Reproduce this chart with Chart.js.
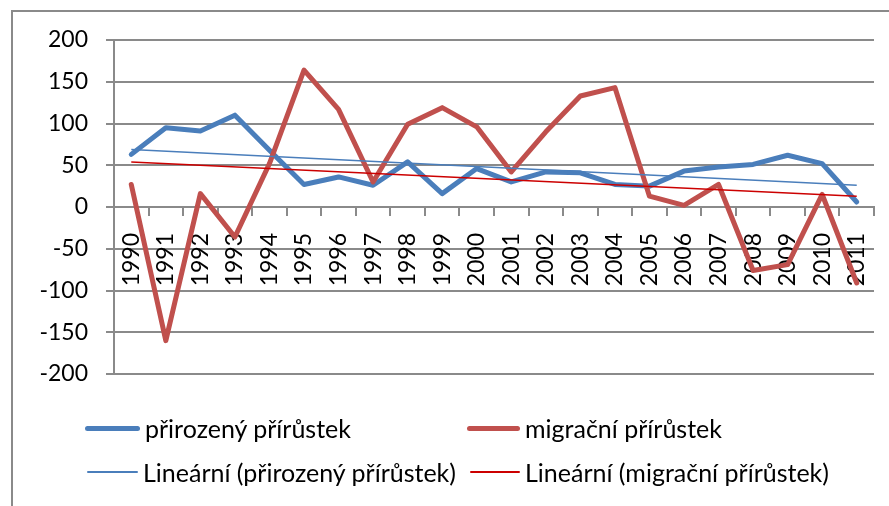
<!DOCTYPE html>
<html>
<head>
<meta charset="utf-8">
<script src="https://cdn.jsdelivr.net/npm/chart.js@4/dist/chart.umd.min.js"></script>
<style>
  html, body { margin: 0; padding: 0; background: #fff; }
  #wrap { position: relative; width: 889px; height: 506px; overflow: hidden; font-family: Lato, "Noto Sans", sans-serif; }
  #frame { position: absolute; left: 11px; top: 10px; width: 900px; height: 520px; border-left: 2px solid #8a8a8a; border-top: 2px solid #8a8a8a; }
  canvas { position: absolute; left: 0; top: 0; }
  .lg { position: absolute; display: flex; align-items: center; font-size: 25px; color: #000; white-space: nowrap; }
  .sw { display: inline-block; margin-right: 5px; border-radius: 3px; }
</style>
</head>
<body>
<div id="wrap">
  <div id="frame"></div>
  <canvas id="c" width="889" height="506"></canvas>
  <div id="legend"></div>
</div>
<script>
const years = ["1990","1991","1992","1993","1994","1995","1996","1997","1998","1999","2000","2001","2002","2003","2004","2005","2006","2007","2008","2009","2010","2011"];
const naturalIncrease = [63, 95, 91, 110, 68, 27, 36, 26, 54, 16, 46, 30, 42, 41, 27, 25, 43, 48, 51, 62, 52, 6];
const migrationIncrease = [27, -160, 16, -36, 52, 164, 117, 30, 99, 119, 96, 42, 90, 133, 143, 13, 2, 27, -76, -69, 15, -91];
// trend line end values (first year, last year)
const trendNatural = [69, 26];
const trendMigration = [54, 13];
const yTicks = { min: -200, max: 200, step: 50 };

const seriesLabels = ["přirozený přírůstek", "migrační přírůstek", "Lineární (přirozený přírůstek)", "Lineární (migrační přírůstek)"];

function endpoints(pair) {
  const arr = years.map(() => null);
  arr[0] = pair[0];
  arr[arr.length - 1] = pair[1];
  return arr;
}

const gridColor = '#8a8a8a';
const font = { family: 'Lato, "Noto Sans", sans-serif', size: 23 };

const chart = new Chart(document.getElementById('c'), {
  type: 'line',
  data: {
    labels: years,
    datasets: [
      { label: seriesLabels[0], data: naturalIncrease, borderColor: '#4a7ebb', borderWidth: 5, pointRadius: 0, borderJoinStyle: 'round', borderCapStyle: 'round', tension: 0, order: 4 },
      { label: seriesLabels[1], data: migrationIncrease, borderColor: '#c0504d', borderWidth: 5, pointRadius: 0, borderJoinStyle: 'round', borderCapStyle: 'round', tension: 0, order: 3 },
      { label: seriesLabels[2], data: endpoints(trendNatural), borderColor: '#4a7ebb', borderWidth: 1.5, pointRadius: 0, spanGaps: true, order: 2 },
      { label: seriesLabels[3], data: endpoints(trendMigration), borderColor: '#cc0000', borderWidth: 1.5, pointRadius: 0, spanGaps: true, order: 1 }
    ]
  },
  options: {
    responsive: false,
    animation: false,
    layout: { padding: { left: 0, top: 40, right: 15, bottom: 132 } },
    plugins: { legend: { display: false }, tooltip: { enabled: false } },
    scales: {
      x: {
        type: 'category',
        position: { y: 0 },
        offset: true,
        afterFit: (s) => { s.paddingLeft = 0; s.paddingRight = 0; },
        grid: { offset: true, drawOnChartArea: false, drawTicks: true, tickLength: 8, color: gridColor, lineWidth: 2 },
        border: { display: true, color: gridColor, width: 2 },
        ticks: { autoSkip: false, minRotation: 90, maxRotation: 90, padding: 18, color: '#000', font: font }
      },
      y: {
        min: yTicks.min, max: yTicks.max,
        afterFit: (s) => { s.width = 114; s.paddingTop = 0; s.paddingBottom = 0; },
        grid: { color: gridColor, lineWidth: 2, tickLength: 8 },
        border: { display: true, color: gridColor, width: 2 },
        ticks: { stepSize: yTicks.step, padding: 18, color: '#000', font: font }
      }
    }
  }
});

// HTML legend built from the chart's datasets
const legendPos = [
  { sx: 85, sw: 55, y: 428 },
  { sx: 467, sw: 53, y: 428 },
  { sx: 87, sw: 51, y: 472 },
  { sx: 470, sw: 50, y: 472 }
];
const lg = document.getElementById('legend');
chart.data.datasets.forEach((ds, i) => {
  const p = legendPos[i];
  const item = document.createElement('div');
  item.className = 'lg';
  item.style.left = p.sx + 'px';
  item.style.top = (p.y - 16) + 'px';
  item.style.height = '32px';
  const sw = document.createElement('span');
  sw.className = 'sw';
  sw.style.width = p.sw + 'px';
  sw.style.height = (ds.borderWidth >= 3 ? 5 : 2) + 'px';
  sw.style.background = ds.borderColor;
  const tx = document.createElement('span');
  tx.textContent = ds.label;
  item.appendChild(sw);
  item.appendChild(tx);
  lg.appendChild(item);
});
</script>
</body>
</html>
